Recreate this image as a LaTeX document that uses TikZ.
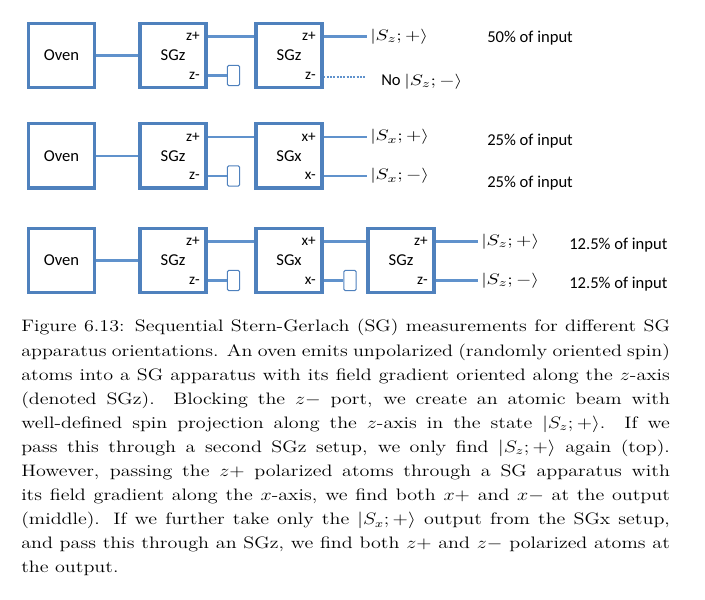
\documentclass[tikz,border=0pt]{standalone}
\usepackage{fontspec}
\usepackage{graphicx}
\newfontfamily\calibri{Carlito}
\definecolor{sgblue}{RGB}{79,129,189}
\definecolor{beamblue}{RGB}{96,146,204}
\newcommand{\spinket}[2]{\scalebox{1.3}[1]{$|S_{#1};#2\rangle$}}

\begin{document}
\begin{tikzpicture}[
    x=0.723pt,
    y=-0.723pt,
    line cap=butt,
    every node/.style={font=\calibri\fontsize{12}{14}\selectfont},
    box/.style={draw=sgblue,line width=2.2pt,fill=white,
                minimum width=47.7pt,minimum height=46.3pt,inner sep=0pt},
    port/.style={font=\calibri\fontsize{11}{13}\selectfont,anchor=east,inner sep=0pt},
    stopper/.style={draw=sgblue,line width=0.7pt,fill=white,rounded corners=1pt,
                    minimum width=9pt,minimum height=14.5pt,inner sep=0pt},
    beam/.style={draw=beamblue,line width=1.6pt},
    ket/.style={font=\fontsize{11}{13}\selectfont,anchor=west,inner sep=0pt},
    share/.style={anchor=base west,inner sep=0pt}
]

\useasboundingbox (0,0) rectangle (705,600);

% Oven, first SGz with blocked z- port, and the second apparatus
\foreach \r/\y/\n/\a in {A/55.5/SGz/z,B/156/SGx/x,C/260.5/SGx/x}{
    \node[box] (oven\r) at (61.5,\y) {Oven};
    \node[box] (sgz\r) at (173,\y) {SGz};
    \node[port] (zp\r) at (200,\y-19) {z+};
    \node[port] (zm\r) at (200,\y+20) {z-};
    \node[stopper] (blk\r) at (233.5,\y+20) {};
    \node[box] (sgb\r) at (289,\y) {\n};
    \node[port] (bp\r) at (316,\y-19) {\a+};
    \node[port] (bm\r) at (316,\y+20) {\a-};
    \draw[beam] (oven\r) -- (sgz\r);
    \draw[beam] (sgz\r.east |- zp\r) -- (sgb\r.west |- zp\r);
    \draw[beam] (sgz\r.east |- zm\r) -- (blk\r);
}

% Top: SGz after SGz
\node[ket] (ketA1) at (370,36.5) {\spinket{z}{+}};
\coordinate (endA) at (366,77);
\draw[beam,shorten >=2pt] (sgbA.east |- bpA) -- (ketA1.west);
\draw[beamblue,line width=1.6pt,dash pattern=on 1.4pt off 1pt]
      (sgbA.east |- endA) -- (endA);
\node[share] (noA) at (381,85.5) {No {\fontsize{11}{13}\selectfont\spinket{z}{-}}};
\node[share] (pctA) at (487,42.3) {50\% of input};

% Middle: SGx after SGz
\node[ket] (ketB1) at (370,137) {\spinket{x}{+}};
\node[ket] (ketB2) at (370,176) {\spinket{x}{-}};
\draw[beam,shorten >=2pt] (sgbB.east |- bpB) -- (ketB1.west);
\draw[beam,shorten >=2pt] (sgbB.east |- bmB) -- (ketB2.west);
\node[share] (pctB1) at (487,145.3) {25\% of input};
\node[share] (pctB2) at (487,187.3) {25\% of input};

% Bottom: SGz after SGx
\node[box] (sgcC) at (401,260.5) {SGz};
\node[port] (cpC) at (428,241.5) {z+};
\node[port] (cmC) at (428,280.5) {z-};
\node[stopper] (blkC2) at (350,280.5) {};
\draw[beam] (sgbC.east |- bpC) -- (sgcC.west |- bpC);
\draw[beam] (sgbC.east |- bmC) -- (blkC2);
\node[ket] (ketC1) at (481,241.5) {\spinket{z}{+}};
\node[ket] (ketC2) at (481,280.5) {\spinket{z}{-}};
\draw[beam,shorten >=2pt] (sgcC.east |- cpC) -- (ketC1.west);
\draw[beam,shorten >=2pt] (sgcC.east |- cmC) -- (ketC2.west);
\node[share] (pctC1) at (569,249.3) {12.5\% of input};
\node[share] (pctC2) at (569,288.3) {12.5\% of input};

% Caption
\node[anchor=base west,inner sep=0pt,font=\rmfamily] (caption) at (21,332)
{\scalebox{1.21}[1]{\parbox[t]{387.6pt}{\fontsize{12}{17.4}\selectfont
Figure 6.13: Sequential Stern-Gerlach (SG) measurements for different SG\linebreak
apparatus orientations. An oven emits unpolarized (randomly oriented spin)\linebreak
atoms into a SG apparatus with its field gradient oriented along the $z$-axis\linebreak
(denoted SGz). Blocking the $z-$ port, we create an atomic beam with\linebreak
well-defined spin projection along the $z$-axis in the state $|S_z;+\rangle$. If we\linebreak
pass this through a second SGz setup, we only find $|S_z;+\rangle$ again (top).\linebreak
However, passing the $z+$ polarized atoms through a SG apparatus with\linebreak
its field gradient along the $x$-axis, we find both $x+$ and $x-$ at the output\linebreak
(middle). If we further take only the $|S_x;+\rangle$ output from the SGx setup,\linebreak
and pass this through an SGz, we find both $z+$ and $z-$ polarized atoms at\linebreak
the output.}}};

\end{tikzpicture}
\end{document}
